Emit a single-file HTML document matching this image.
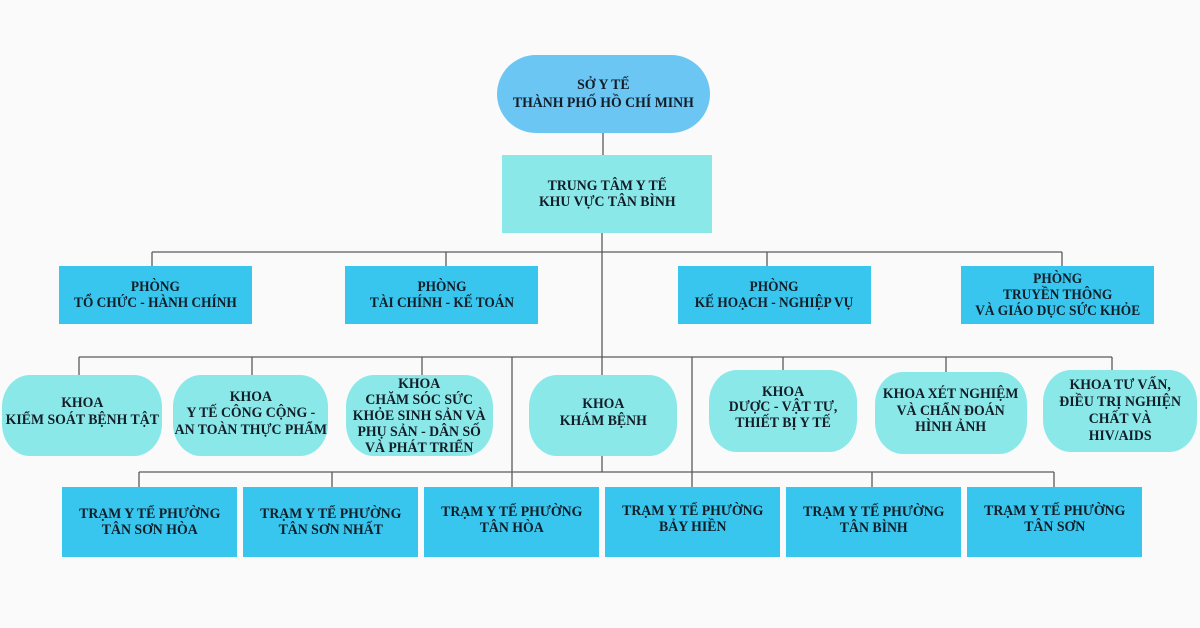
<!DOCTYPE html>
<html><head><meta charset="utf-8">
<style>
html,body{margin:0;padding:0;}
body{width:1200px;height:628px;background:#fafafa;position:relative;overflow:hidden;
font-family:"Liberation Serif","Noto Serif CJK SC",serif;font-weight:bold;color:#121d28;}
.b{position:absolute;display:flex;align-items:center;justify-content:center;text-align:center;
font-size:15px;line-height:16.5px;box-sizing:border-box;}
.b span{display:inline-block;white-space:nowrap;transform:scaleX(0.92);}
.pill{background:#6bc6f4;border-radius:40px;}
.tt{background:#8be8e8;}
.ph{background:#38c6ee;}
.ph span{transform:scaleX(0.89);}
.kh{background:#8be8e8;border-radius:28px/32px;}
.tr{background:#38c6ee;}
svg{position:absolute;left:0;top:0;}
</style></head><body>
<svg width="1200" height="628" viewBox="0 0 1200 628">
<g stroke="#5a5a5a" stroke-width="1.3" fill="none">
<line x1="603" y1="132" x2="603" y2="155"/>
<line x1="602" y1="233" x2="602" y2="375"/>
<line x1="152" y1="252" x2="1062" y2="252"/>
<line x1="152" y1="252" x2="152" y2="266"/>
<line x1="446" y1="252" x2="446" y2="266"/>
<line x1="767" y1="252" x2="767" y2="266"/>
<line x1="1062" y1="252" x2="1062" y2="266"/>
<line x1="79" y1="357" x2="1112" y2="357"/>
<line x1="79" y1="357" x2="79" y2="375"/>
<line x1="252" y1="357" x2="252" y2="375"/>
<line x1="422" y1="357" x2="422" y2="375"/>
<line x1="783" y1="357" x2="783" y2="370"/>
<line x1="946" y1="357" x2="946" y2="372"/>
<line x1="1112" y1="357" x2="1112" y2="370"/>
<line x1="512" y1="357" x2="512" y2="487"/>
<line x1="692" y1="357" x2="692" y2="487"/>
<line x1="602" y1="456" x2="602" y2="472"/>
<line x1="139" y1="472" x2="1054" y2="472"/>
<line x1="139" y1="472" x2="139" y2="487"/>
<line x1="332" y1="472" x2="332" y2="487"/>
<line x1="872" y1="472" x2="872" y2="487"/>
<line x1="1054" y1="472" x2="1054" y2="487"/>
</g>
</svg>

<div class="b pill" style="left:497px;top:55px;width:213px;height:78px;line-height:18px;"><span>SỞ Y TẾ<br>THÀNH PHỐ HỒ CHÍ MINH</span></div>
<div class="b tt" style="left:502px;top:155px;width:210px;height:78px;"><span>TRUNG TÂM Y TẾ<br>KHU VỰC TÂN BÌNH</span></div>

<div class="b ph" style="left:59px;top:266px;width:193px;height:58px;"><span>PHÒNG<br>TỔ CHỨC - HÀNH CHÍNH</span></div>
<div class="b ph" style="left:345px;top:266px;width:193px;height:58px;"><span>PHÒNG<br>TÀI CHÍNH - KẾ TOÁN</span></div>
<div class="b ph" style="left:678px;top:266px;width:193px;height:58px;"><span>PHÒNG<br>KẾ HOẠCH - NGHIỆP VỤ</span></div>
<div class="b ph" style="left:961px;top:266px;width:193px;height:58px;line-height:16px;"><span>PHÒNG<br>TRUYỀN THÔNG<br>VÀ GIÁO DỤC SỨC KHỎE</span></div>

<div class="b kh" style="left:2px;top:375px;width:160px;height:81px;padding-bottom:8px;"><span>KHOA<br>KIỂM SOÁT BỆNH TẬT</span></div>
<div class="b kh" style="left:173px;top:375px;width:155px;height:81px;padding-bottom:4px;"><span>KHOA<br>Y TẾ CÔNG CỘNG -<br>AN TOÀN THỰC PHẨM</span></div>
<div class="b kh" style="left:346px;top:375px;width:147px;height:81px;line-height:16px;"><span>KHOA<br>CHĂM SÓC SỨC<br>KHỎE SINH SẢN VÀ<br>PHỤ SẢN - DÂN SỐ<br>VÀ PHÁT TRIỂN</span></div>
<div class="b kh" style="left:529px;top:375px;width:148px;height:81px;padding-bottom:6px;"><span>KHOA<br>KHÁM BỆNH</span></div>
<div class="b kh" style="left:709px;top:370px;width:148px;height:82px;padding-bottom:6px;line-height:15.5px;"><span>KHOA<br>DƯỢC - VẬT TƯ,<br>THIẾT BỊ Y TẾ</span></div>
<div class="b kh" style="left:875px;top:372px;width:152px;height:82px;padding-bottom:4px;"><span>KHOA XÉT NGHIỆM<br>VÀ CHẨN ĐOÁN<br>HÌNH ẢNH</span></div>
<div class="b kh" style="left:1043px;top:370px;width:154px;height:82px;line-height:17px;"><span>KHOA TƯ VẤN,<br>ĐIỀU TRỊ NGHIỆN<br>CHẤT VÀ<br>HIV/AIDS</span></div>

<div class="b tr" style="left:62px;top:487px;width:175px;height:70px;"><span>TRẠM Y TẾ PHƯỜNG<br>TÂN SƠN HÒA</span></div>
<div class="b tr" style="left:243px;top:487px;width:175px;height:70px;"><span>TRẠM Y TẾ PHƯỜNG<br>TÂN SƠN NHẤT</span></div>
<div class="b tr" style="left:424px;top:487px;width:175px;height:70px;padding-bottom:4px;"><span>TRẠM Y TẾ PHƯỜNG<br>TÂN HÒA</span></div>
<div class="b tr" style="left:605px;top:487px;width:175px;height:70px;padding-bottom:6px;"><span>TRẠM Y TẾ PHƯỜNG<br>BẢY HIỀN</span></div>
<div class="b tr" style="left:786px;top:487px;width:175px;height:70px;padding-bottom:4px;"><span>TRẠM Y TẾ PHƯỜNG<br>TÂN BÌNH</span></div>
<div class="b tr" style="left:967px;top:487px;width:175px;height:70px;padding-bottom:6px;"><span>TRẠM Y TẾ PHƯỜNG<br>TÂN SƠN</span></div>
</body></html>
